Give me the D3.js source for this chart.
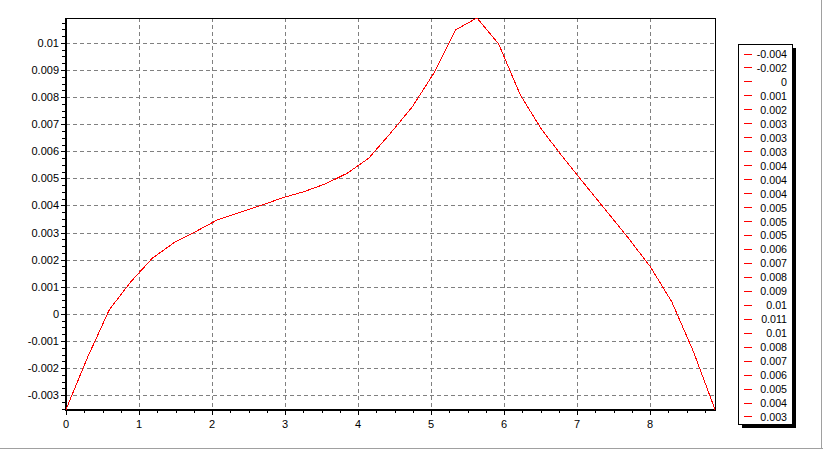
<!DOCTYPE html>
<html>
<head>
<meta charset="utf-8">
<script src="https://cdn.jsdelivr.net/npm/d3@7"></script>
<style>
  html, body { margin: 0; padding: 0; background: #fff; }
  svg { display: block; font-family: Arial, "Liberation Sans", sans-serif; }
</style>
</head>
<body>
<svg id="chart" width="823" height="449"></svg>
<script>
// ---- data ----
const xValues = [0, 0.296, 0.593, 0.889, 1.185, 1.482, 1.778, 2.074, 2.371, 2.667,
                 2.963, 3.26, 3.556, 3.852, 4.149, 4.445, 4.741, 5.038, 5.334, 5.63,
                 5.927, 6.223, 6.519, 6.816, 7.112, 7.408, 7.705, 8.001, 8.297, 8.594, 8.89];
const yValues = [-0.00353, -0.0016, 0.00015, 0.00119, 0.00206, 0.00263, 0.00304, 0.00347, 0.00374, 0.0040,
                 0.00428, 0.00451, 0.0048, 0.00519, 0.00575, 0.00667, 0.00763, 0.00888, 0.01048, 0.01092,
                 0.00996, 0.00808, 0.00679, 0.00575, 0.00476, 0.00378, 0.00279, 0.00175, 0.00045, -0.00139, -0.00353];
const xTicks = [0, 1, 2, 3, 4, 5, 6, 7, 8];
const yTicks = [-0.003, -0.002, -0.001, 0, 0.001, 0.002, 0.003, 0.004, 0.005, 0.006, 0.007, 0.008, 0.009, 0.01];
const legendCount = 27;

const svg = d3.select("#chart");
const L = 66, R = 715, T = 18, B = 410;

const x = d3.scaleLinear().domain([0, d3.max(xValues)]).range([L, R]);
const y = d3.scaleLinear().domain([d3.min(yValues), d3.max(yValues)]).range([B - 0.5, T]);

// outer panel bevel
svg.append("line").attr("x1", 0).attr("x2", 823).attr("y1", 448.5).attr("y2", 448.5).attr("stroke", "#a0a0a0");
svg.append("line").attr("x1", 821.5).attr("x2", 821.5).attr("y1", 0).attr("y2", 449).attr("stroke", "#a0a0a0");

// grid
const grid = svg.append("g").attr("stroke", "#808080").attr("stroke-dasharray", "4,3").attr("shape-rendering", "crispEdges");
grid.selectAll("line.h").data(yTicks).join("line")
  .attr("x1", L).attr("x2", R).attr("y1", d => Math.round(y(d)) + 0.5).attr("y2", d => Math.round(y(d)) + 0.5);
grid.selectAll("line.v").data(xTicks.filter(d => d > 0)).join("line")
  .attr("y1", T).attr("y2", B).attr("x1", d => Math.round(x(d)) + 0.5).attr("x2", d => Math.round(x(d)) + 0.5);

// frame top / right
svg.append("line").attr("x1", L).attr("x2", R + 1).attr("y1", T + 0.5).attr("y2", T + 0.5).attr("stroke", "#000");
svg.append("line").attr("x1", R + 0.5).attr("x2", R + 0.5).attr("y1", T).attr("y2", B).attr("stroke", "#000");

// minor ticks
const minorY = [];
for (let i = 0; i < yTicks.length - 1; i++) for (let k = 1; k < 4; k++) minorY.push(yTicks[i] + (yTicks[i + 1] - yTicks[i]) * k / 4);
for (let k = 1; k < 4; k++) { minorY.push(yTicks[0] - 0.001 * k / 4); minorY.push(yTicks[yTicks.length - 1] + 0.001 * k / 4); }
const minorX = [];
for (let i = 0; i < xTicks.length; i++) for (let k = 1; k < 4; k++) minorX.push(xTicks[i] + k / 4);
const ticks = svg.append("g").attr("stroke", "#000").attr("shape-rendering", "crispEdges");
ticks.selectAll("line.my").data(minorY.filter(d => y(d) >= T && y(d) <= B)).join("line")
  .attr("x1", L - 4).attr("x2", L - 1).attr("y1", d => Math.round(y(d)) + 0.5).attr("y2", d => Math.round(y(d)) + 0.5);
ticks.selectAll("line.mx").data(minorX.filter(d => x(d) <= R)).join("line")
  .attr("y1", B + 1).attr("y2", B + 3).attr("x1", d => Math.round(x(d)) + 0.5).attr("x2", d => Math.round(x(d)) + 0.5);
ticks.selectAll("line.My").data(yTicks).join("line")
  .attr("x1", L - 5).attr("x2", L - 1).attr("y1", d => Math.round(y(d)) + 0.5).attr("y2", d => Math.round(y(d)) + 0.5);
ticks.selectAll("line.Mx").data(xTicks).join("line")
  .attr("y1", B + 1).attr("y2", B + 5).attr("x1", d => Math.round(x(d)) + 0.5).attr("x2", d => Math.round(x(d)) + 0.5);

// axes lines
svg.append("line").attr("x1", L).attr("x2", L).attr("y1", T).attr("y2", B + 1).attr("stroke", "#000").attr("stroke-width", 2);
svg.append("line").attr("x1", L - 1).attr("x2", R + 1).attr("y1", B).attr("y2", B).attr("stroke", "#000").attr("stroke-width", 2);

// tick labels
const fmt = d => String(+d.toFixed(3));
svg.append("g").selectAll("text").data(yTicks).join("text")
  .attr("x", 59).attr("y", d => y(d) + 4).attr("text-anchor", "end")
  .attr("font-size", "11px").attr("fill", "#000").text(fmt);
svg.append("g").selectAll("text").data(xTicks).join("text")
  .attr("x", d => x(d)).attr("y", 428).attr("text-anchor", "middle")
  .attr("font-size", "11px").attr("fill", "#000").text(d => d);

// series line
const pts = xValues.map((v, i) => [v, yValues[i]]);
svg.append("path").datum(pts)
  .attr("d", d3.line().x(d => x(d[0])).y(d => y(d[1])))
  .attr("fill", "none").attr("stroke", "#ff0000").attr("stroke-width", 1)
  .attr("shape-rendering", "crispEdges");

// legend
const legendItems = yValues.slice(0, legendCount);
const lgX = 738.5, lgY = 44.5, lgW = 54, lgH = 380;
const lg = svg.append("g");
lg.append("rect").attr("x", lgX + 3.5).attr("y", lgY + 3.5).attr("width", lgW + 0).attr("height", lgH).attr("fill", "#000");
lg.append("rect").attr("x", lgX).attr("y", lgY).attr("width", lgW).attr("height", lgH)
  .attr("fill", "#fff").attr("stroke", "#000");
const step = 13.96;
const item = lg.selectAll("g.item").data(legendItems).join("g")
  .attr("transform", (d, i) => `translate(0, ${54 + i * step})`);
item.append("line").attr("x1", 744).attr("x2", 752).attr("y1", 0).attr("y2", 0)
  .attr("stroke", "#ff0000").attr("shape-rendering", "crispEdges");
item.append("text").attr("x", 787).attr("y", 4).attr("text-anchor", "end")
  .attr("font-size", "10.67px").attr("fill", "#000").text(fmt);
</script>
</body>
</html>
